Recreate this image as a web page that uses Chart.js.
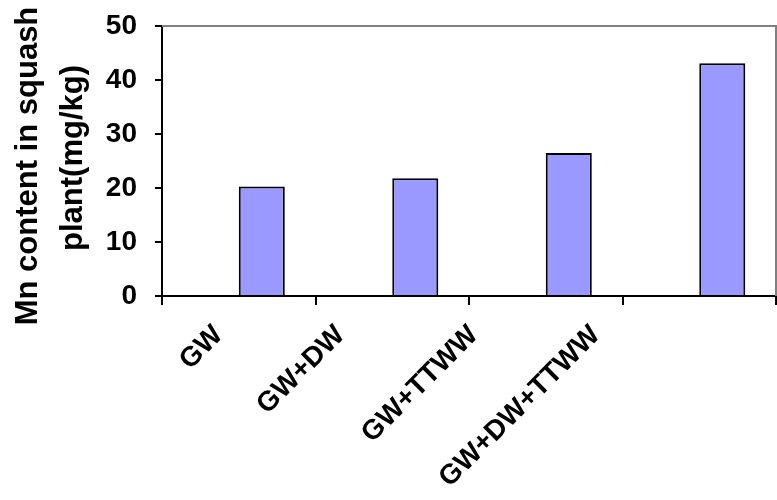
<!DOCTYPE html>
<html lang="en">
<head>
    <meta charset="UTF-8">
    <title>Mn content in squash plant</title>
    <script src="https://cdn.jsdelivr.net/npm/chart.js"></script>
    <style>
        body {
            margin: 0;
            background: #fff;
        }
    </style>
</head>
<body>
    <canvas id="mnChart" width="777" height="500"></canvas>

    <script>
        // data
        const categories = ['GW', 'GW+DW', 'GW+TTWW', 'GW+DW+TTWW'];
        const mnValues = [20.3, 21.8, 26.5, 43.1];
        const blankSeries = [null, null, null, null]; // empty first slot, pushes bars right of centre
        const yTicks = [0, 10, 20, 30, 40, 50];
        const yTitle = ['Mn content in squash', 'plant(mg/kg)'];

        const fontFamily = "'Liberation Sans', Arial, sans-serif";

        // grey frame on top and right of the plot area
        const framePlugin = {
            id: 'frame',
            beforeDatasetsDraw(chart) {
                const { ctx, chartArea } = chart;
                ctx.save();
                ctx.strokeStyle = '#808080';
                ctx.lineWidth = 2;
                ctx.beginPath();
                ctx.moveTo(chartArea.left, chartArea.top);
                ctx.lineTo(chartArea.right, chartArea.top);
                ctx.lineTo(chartArea.right, chartArea.bottom);
                ctx.stroke();
                ctx.restore();
            }
        };

        // two-line vertical axis title, drawn by hand so it can sit a bit lower
        const yTitlePlugin = {
            id: 'yTitle',
            afterDraw(chart) {
                const ctx = chart.ctx;
                const yScale = chart.scales.y;
                const cy = (yScale.top + yScale.bottom) / 2 + 5;
                ctx.save();
                ctx.font = 'bold 31px ' + fontFamily;
                ctx.fillStyle = '#000';
                ctx.textAlign = 'center';
                ctx.textBaseline = 'alphabetic';
                yTitle.forEach(function (line, i) {
                    ctx.save();
                    ctx.translate(37 + i * 45, cy - i * 8);
                    ctx.rotate(-Math.PI / 2);
                    ctx.fillText(line, 0, 0);
                    ctx.restore();
                });
                ctx.restore();
            }
        };

        // rotated category labels, shifted left by half their width
        const xLabelPlugin = {
            id: 'xLabels',
            afterDraw(chart) {
                const ctx = chart.ctx;
                const xScale = chart.scales.x;
                ctx.save();
                ctx.font = 'bold 28px ' + fontFamily;
                ctx.fillStyle = '#000';
                ctx.textAlign = 'right';
                ctx.textBaseline = 'top';
                categories.forEach(function (label, i) {
                    const w = ctx.measureText(label).width;
                    const x = xScale.getPixelForValue(i) - w / 2 - 6;
                    const y = xScale.top + 25;
                    ctx.save();
                    ctx.translate(x, y);
                    ctx.rotate(-Math.PI / 4);
                    ctx.fillText(label, 0, 0);
                    ctx.restore();
                });
                ctx.restore();
            }
        };

        const ctx = document.getElementById('mnChart').getContext('2d');
        const mnChart = new Chart(ctx, {
            type: 'bar',
            data: {
                labels: categories,
                datasets: [{
                    label: 'blank',
                    data: blankSeries,
                    backgroundColor: '#9999FF'
                }, {
                    label: 'Mn',
                    data: mnValues,
                    backgroundColor: '#9999FF',
                    borderColor: '#000',
                    borderWidth: 2
                }]
            },
            options: {
                responsive: false,
                animation: false,
                layout: {
                    padding: { top: 26, right: 1, left: 0, bottom: 0 }
                },
                datasets: {
                    bar: { categoryPercentage: 0.6, barPercentage: 1 }
                },
                plugins: {
                    legend: { display: false },
                    tooltip: { enabled: false }
                },
                scales: {
                    x: {
                        grid: {
                            offset: true,
                            drawOnChartArea: false,
                            color: '#000',
                            lineWidth: 2,
                            tickLength: 9
                        },
                        border: { color: '#000', width: 2 },
                        ticks: { display: false },
                        afterFit: function (scale) { scale.height = 204; }
                    },
                    y: {
                        min: 0,
                        max: 50,
                        afterBuildTicks: function (scale) {
                            scale.ticks = yTicks.map(v => ({ value: v }));
                        },
                        ticks: {
                            color: '#000',
                            padding: 18,
                            font: { family: fontFamily, size: 28, weight: 'bold' }
                        },
                        grid: {
                            drawOnChartArea: false,
                            color: '#000',
                            lineWidth: 2,
                            tickLength: 7
                        },
                        border: { color: '#000', width: 2 },
                        afterFit: function (scale) {
                            scale.width = 162;
                            scale.paddingTop = 0;
                            scale.paddingBottom = 0;
                        }
                    }
                }
            },
            plugins: [framePlugin, yTitlePlugin, xLabelPlugin]
        });
    </script>
</body>
</html>
